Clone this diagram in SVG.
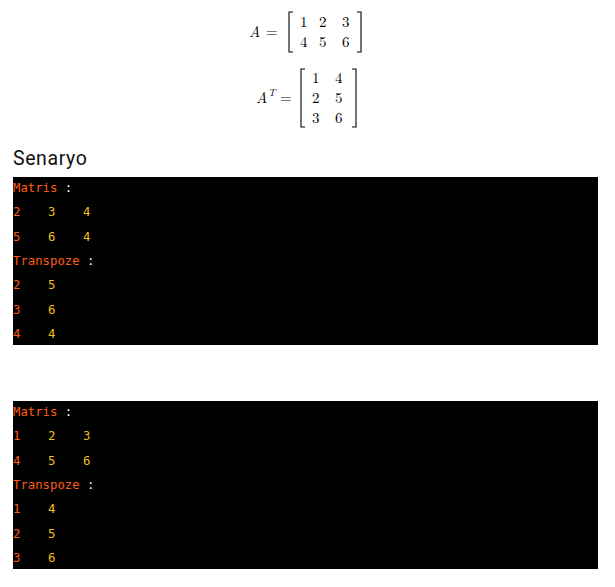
<svg xmlns="http://www.w3.org/2000/svg" width="615" height="587" viewBox="0 0 615 587">
<style>
.m{font-family:"Latin Modern Roman","Liberation Serif","DejaVu Serif",serif;font-size:15px;fill:#000}
.mi{font-style:italic}
.br{fill:none;stroke:#000;stroke-width:1.1}
.t{font-family:"DejaVu Sans Mono","Liberation Mono",monospace;font-size:12.3px}
.o{fill:#ff5b14}
.y{fill:#efbf1c}
.w{fill:#ffffff}
.h{font-family:Roboto,"Liberation Sans",sans-serif;font-size:19.5px;fill:#111;letter-spacing:0.6px}
</style>
<rect width="615" height="587" fill="#ffffff"/>
<g id="matrixA">
<text class="m mi" x="249" y="37">A</text>
<text class="m" x="266" y="37">=</text>
<path class="br" d="M293,12 H289 V52 H293"/>
<text class="m" x="300" y="27">1</text>
<text class="m" x="319" y="27">2</text>
<text class="m" x="342" y="27">3</text>
<text class="m" x="300" y="47">4</text>
<text class="m" x="319" y="47">5</text>
<text class="m" x="342" y="47">6</text>
<path class="br" d="M357,12 H361 V52 H357"/>
</g>
<g id="matrixAT">
<text class="m mi" x="256" y="103">A</text>
<text class="mi" x="268" y="96" style="font-family:'Latin Modern Roman','Liberation Serif',serif;font-size:10.5px">T</text>
<text class="m" x="280" y="103">=</text>
<path class="br" d="M305,69 H301 V127 H305"/>
<text class="m" x="312" y="83">1</text>
<text class="m" x="335" y="83">4</text>
<text class="m" x="312" y="103">2</text>
<text class="m" x="335" y="103">5</text>
<text class="m" x="312" y="123">3</text>
<text class="m" x="335" y="123">6</text>
<path class="br" d="M352,69 H356 V127 H352"/>
</g>
<g id="heading">
<text class="h" x="13" y="165">Senaryo</text>
</g>
<g id="console1">
<rect x="13" y="177" width="585" height="168" fill="#000"/>
<text class="t o" x="13" y="192">Matris <tspan class="w">:</tspan></text>
<text class="t o" x="13" y="216">2</text><text class="t y" x="48" y="216">3</text><text class="t y" x="83" y="216">4</text>
<text class="t o" x="13" y="241">5</text><text class="t y" x="48" y="241">6</text><text class="t y" x="83" y="241">4</text>
<text class="t o" x="13" y="265">Transpoze <tspan class="w">:</tspan></text>
<text class="t o" x="13" y="289">2</text><text class="t y" x="48" y="289">5</text>
<text class="t o" x="13" y="314">3</text><text class="t y" x="48" y="314">6</text>
<text class="t o" x="13" y="338">4</text><text class="t y" x="48" y="338">4</text>
</g>
<g id="console2">
<rect x="13" y="401" width="585" height="168" fill="#000"/>
<text class="t o" x="13" y="416">Matris <tspan class="w">:</tspan></text>
<text class="t o" x="13" y="440">1</text><text class="t y" x="48" y="440">2</text><text class="t y" x="83" y="440">3</text>
<text class="t o" x="13" y="465">4</text><text class="t y" x="48" y="465">5</text><text class="t y" x="83" y="465">6</text>
<text class="t o" x="13" y="489">Transpoze <tspan class="w">:</tspan></text>
<text class="t o" x="13" y="513">1</text><text class="t y" x="48" y="513">4</text>
<text class="t o" x="13" y="538">2</text><text class="t y" x="48" y="538">5</text>
<text class="t o" x="13" y="562">3</text><text class="t y" x="48" y="562">6</text>
</g>
</svg>
